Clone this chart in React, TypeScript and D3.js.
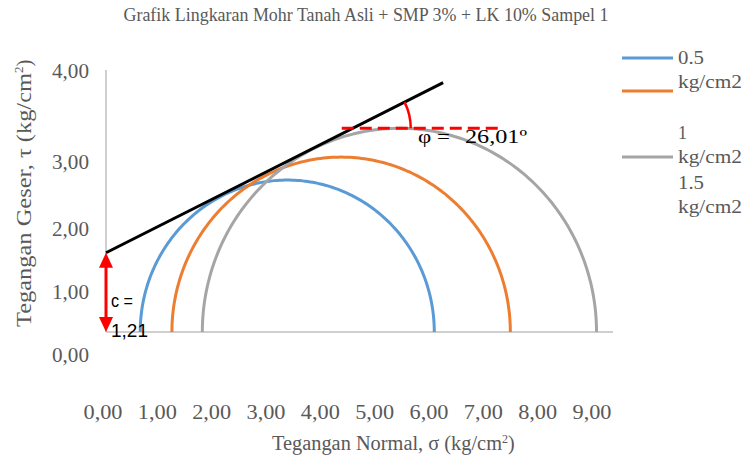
import React from 'react';
import { scaleLinear, line, range, arc } from 'd3';

// data
const pressureLabels = ['0.5', '1', '1.5'];
const sigma3 = [0.54, 1.04, 1.52];
const sigma1 = [5.18, 6.38, 7.74];
const circleColors = ['#5B9BD5', '#ED7D31', '#A5A5A5'];
const cohesion = 1.21;
const phiDeg = 26.01;
const xTickLabels = ['0,00', '1,00', '2,00', '3,00', '4,00', '5,00', '6,00', '7,00', '8,00', '9,00'];
const yTickLabels = ['0,00', '1,00', '2,00', '3,00', '4,00'];

const W = 744;
const H = 457;
const serif = '"Liberation Serif", "Times New Roman", serif';
const sans = '"Liberation Sans", Arial, sans-serif';
const grey = '#595959';

export default function App() {
  // real plot scales
  const x = scaleLinear().domain([0, 8]).range([106, 613]);
  const y = scaleLinear().domain([0, 4]).range([332, 70]);
  // tick labels in the reference are not placed on the plot scale
  const xLab = scaleLinear().domain([0, 9]).range([103, 592]);
  const yLab = scaleLinear().domain([0, 1, 2, 3, 4]).range([355, 292, 229, 162, 71]);

  const tanPhi = Math.tan((phiDeg * Math.PI) / 180);
  const mk = line<[number, number]>().x(d => x(d[0])).y(d => y(d[1]));

  const circles = sigma3.map((s3, i) => {
    const c = (s3 + sigma1[i]) / 2;
    const r = (sigma1[i] - s3) / 2;
    const pts = range(0, 181).map(a => {
      const t = (a * Math.PI) / 180;
      return [c - r * Math.cos(t), r * Math.sin(t)] as [number, number];
    });
    return { path: mk(pts), color: circleColors[i], r };
  });

  const lineEnd = 5.32;
  const envelope = mk([[0, cohesion], [lineEnd, cohesion + tanPhi * lineEnd]]);

  // angle annotation at the top of the largest circle
  const topTau = circles[2].r;
  const sigInt = (topTau - cohesion) / tanPhi;
  const cx = x(sigInt);
  const cy = y(topTau);
  const visAng = Math.atan2(y(cohesion) - y(cohesion + tanPhi), x(1) - x(0));
  const arcR = 58;
  const arcPath = arc()({
    innerRadius: arcR,
    outerRadius: arcR,
    startAngle: Math.PI / 2 - visAng,
    endAngle: Math.PI / 2,
  });

  const ax = x(0);
  const yTop = y(cohesion);
  const yBot = y(0);

  const legendMarkers = [58, 91, 157];
  const legendLines: [string, number, number][] = [
    [pressureLabels[0], 58, 26], ['kg/cm2', 82, 64],
    [pressureLabels[1], 133, 9], ['kg/cm2', 157, 64],
    [pressureLabels[2], 183, 26], ['kg/cm2', 207, 64],
  ];

  return (
    <svg width={W} height={H} style={{ position: 'absolute', left: 0, top: 0, background: '#fff' }}>
      <text x={366} y={21} textAnchor="middle" fontFamily={serif} fontSize={18} fill={grey}
        textLength={485} lengthAdjust="spacingAndGlyphs">
        Grafik Lingkaran Mohr Tanah Asli + SMP 3% + LK 10% Sampel 1
      </text>

      {/* axes */}
      <line x1={x(0)} x2={x(0)} y1={y(4)} y2={y(0)} stroke="#BFBFBF" strokeWidth={1.5} />
      <line x1={x(0)} x2={x(8)} y1={y(0)} y2={y(0)} stroke="#BFBFBF" strokeWidth={1.5} />

      {yTickLabels.map((t, i) => (
        <text key={t} x={89} y={yLab(i)} dy="0.35em" textAnchor="end" fontFamily={serif} fontSize={20} fill={grey}
          textLength={37} lengthAdjust="spacingAndGlyphs">{t}</text>
      ))}
      {xTickLabels.map((t, i) => (
        <text key={t} x={xLab(i)} y={412} dy="0.35em" textAnchor="middle" fontFamily={serif} fontSize={20} fill={grey}
          textLength={39} lengthAdjust="spacingAndGlyphs">{t}</text>
      ))}

      <text x={272} y={450} fontFamily={serif} fontSize={20} fill={grey}>
        <tspan textLength={230} lengthAdjust="spacingAndGlyphs">Tegangan Normal, σ (kg/cm</tspan>
        <tspan dy={-7} fontSize={12}>2</tspan><tspan dy={7}>)</tspan>
      </text>
      <text transform="translate(31,327) rotate(-90)" fontFamily={serif} fontSize={21} fill={grey}>
        <tspan textLength={254} lengthAdjust="spacingAndGlyphs">Tegangan Geser, τ (kg/cm</tspan>
        <tspan dy={-8} fontSize={13}>2</tspan><tspan dy={8}>)</tspan>
      </text>

      {circles.map((c, i) => (
        <path key={i} d={c.path || ''} fill="none" stroke={c.color} strokeWidth={3} />
      ))}

      <path d={envelope || ''} fill="none" stroke="#000" strokeWidth={3} />

      {/* phi annotation */}
      <line x1={x(3.72)} x2={x(6.21)} y1={cy} y2={cy} stroke="#FF0000" strokeWidth={3} strokeDasharray="12,6" />
      <path d={arcPath || ''} transform={`translate(${cx},${cy})`} fill="none" stroke="#FF0000" strokeWidth={2.5} />
      <text x={418} y={143} fontFamily={serif} fontSize={19} fill="#000" textLength={32} lengthAdjust="spacingAndGlyphs">φ =</text>
      <text x={465} y={143} fontFamily={serif} fontSize={19} fill="#000" textLength={62} lengthAdjust="spacingAndGlyphs">26,01º</text>

      {/* cohesion arrow */}
      <line x1={ax} x2={ax} y1={yTop + 12} y2={yBot - 12} stroke="#FF0000" strokeWidth={3} />
      <path d={`M${ax},${yTop} L${ax - 7},${yTop + 15} L${ax + 7},${yTop + 15} Z`} fill="#FF0000" />
      <path d={`M${ax},${yBot} L${ax - 7},${yBot - 15} L${ax + 7},${yBot - 15} Z`} fill="#FF0000" />
      <text x={111} y={307} fontFamily={sans} fontSize={18} fill="#000" textLength={22} lengthAdjust="spacingAndGlyphs">c =</text>
      <text x={111} y={337} fontFamily={sans} fontSize={18} fill="#000" textLength={37} lengthAdjust="spacingAndGlyphs">1,21</text>

      {/* legend */}
      {legendMarkers.map((ly, i) => (
        <line key={i} x1={622} x2={673} y1={ly} y2={ly} stroke={circleColors[i]} strokeWidth={3} />
      ))}
      {legendLines.map(([t, ly, len], i) => (
        <text key={i} x={678} y={ly} dy="0.35em" fontFamily={serif} fontSize={18} fill={grey}
          textLength={len} lengthAdjust="spacingAndGlyphs">{t}</text>
      ))}
    </svg>
  );
}
